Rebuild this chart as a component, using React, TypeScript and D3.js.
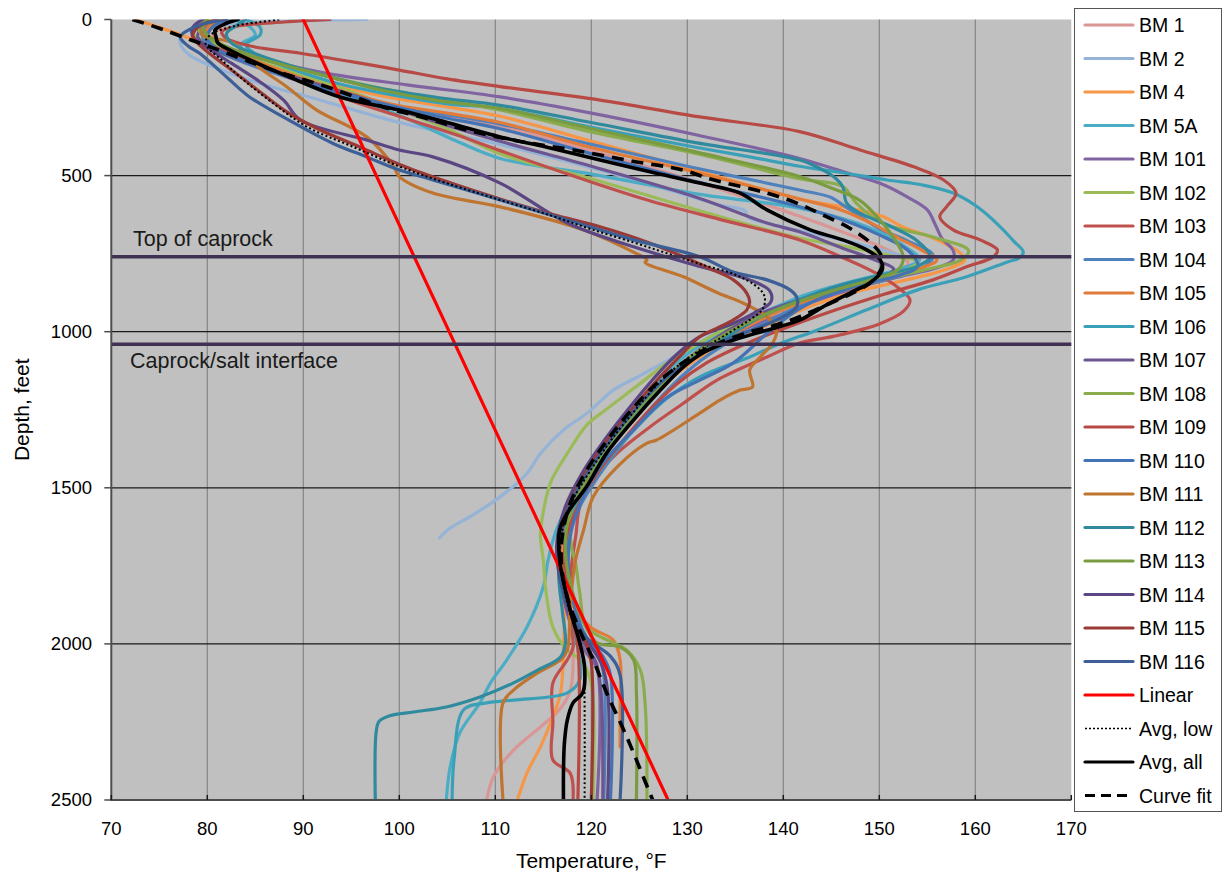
import React from "react";
import * as d3 from "d3";

// Temperature logs: [temperature °F, depth ft]
const bm1 = [[84,0],[81.5,25],[80.5,60],[81.5,100],[86,160],[93,230],[101,290],[110.5,340],[120,420],[131,520],[141.7,630],[147,690],[151,740],[153,780],[151,815],[146,855],[141.5,905],[137.5,965],[133.5,1030],[130,1100],[127,1190],[124,1290],[121.4,1390],[119.4,1490],[117.8,1590],[117.2,1700],[117.6,1850],[118.1,2000],[117.8,2150],[116.7,2210],[114.7,2266],[111.9,2340],[109.8,2426],[109.1,2500]];
const bm2 = [[96.6,0],[90,4],[84,12],[79,28],[77.2,50],[77.3,85],[78.2,115],[80.5,150],[85,200],[92,260],[100,330],[110.5,400],[120,475],[128,545],[133.5,595],[136,612],[136.3,632],[140,665],[146,705],[151,745],[154,780],[152,810],[147,850],[141,900],[136,960],[131.5,1030],[127.5,1100],[124.5,1150],[122.3,1187],[119.5,1262],[117.1,1315],[114.7,1390],[113.3,1454],[110.5,1529],[107.5,1590],[105.3,1629],[104.2,1660]];
const bm4 = [[72.5,0],[75,25],[77.5,52],[79.5,78],[82,110],[86,150],[92,200],[99,250],[105,280],[110.5,310],[120,390],[130,475],[141.7,575],[147,605],[150.3,630],[152.5,665],[155.6,700],[158.3,745],[158.9,770],[157,800],[152,840],[146.5,880],[141.5,935],[137.5,990],[133,1050],[129.5,1120],[126.5,1200],[123.8,1300],[121.2,1400],[119.2,1500],[117.5,1600],[117,1700],[117.2,1850],[117.1,2029],[116.8,2157],[116,2234],[114.7,2330],[113.3,2413],[112.3,2500]];
const bm5a = [[83,0],[84.5,25],[85,50],[83.5,80],[84,110],[86.5,150],[90.5,200],[96,260],[101,320],[106,390],[110.5,445],[120.9,500],[131.3,560],[141.7,604],[148.7,664],[153.2,738],[154.2,770],[152,800],[147,840],[142,885],[138,940],[134,1000],[130.5,1060],[127.5,1140],[124.5,1240],[121.8,1340],[119.6,1440],[117.8,1540],[116.3,1640],[115.5,1731],[115,1817],[113.3,1946],[111.2,2051],[109.5,2125],[108.4,2189],[106.3,2285],[105.3,2394],[104.9,2500]];
const bm101 = [[80,0],[79,20],[79.5,50],[81,80],[85,120],[92,170],[101,210],[110.5,248],[120,300],[131,370],[141.7,445],[147,495],[150.5,530],[153,570],[155,610],[155.8,655],[156.5,700],[157.7,740],[157.7,770],[156,795],[152,825],[147.5,860],[143,905],[139,955],[134.5,1010],[131,1070],[128,1150],[125,1250],[122.3,1350],[120,1450],[118,1560],[116.8,1680],[116.9,1800],[118,1950],[119.5,2030],[120.6,2080],[120.6,2500]];
const bm102 = [[80.5,0],[79,20],[78.5,45],[80,75],[83,110],[88,160],[94,220],[100,290],[105,350],[110.5,430],[120,510],[131,610],[141.7,700],[147,730],[151,755],[154,776],[153,800],[150,830],[146,860],[142,895],[138,940],[134,990],[130.5,1050],[127.9,1100],[124.5,1180],[121.5,1250],[119.5,1300],[117.5,1390],[115.8,1480],[115.1,1560],[114.7,1650],[115,1731],[115.3,1837],[116,1946],[117.5,2020],[118.5,2042],[119.5,2080],[120.1,2150],[120.2,2500]];
const bm103 = [[82,0],[80.5,25],[80,55],[81,85],[84,130],[89,190],[95,260],[101,320],[106,370],[110.5,420],[118,500],[126,580],[134,645],[141.7,706],[146,760],[149.5,810],[152,860],[153.2,899],[152.5,935],[150,975],[145.2,1015],[141.7,1036],[138.3,1081],[133.1,1155],[129.6,1229],[126.1,1305],[122.7,1389],[120.2,1475],[118.8,1561],[118.4,1650],[117.9,1760],[117.7,1900],[118.1,2010],[117.5,2051],[116,2125],[116,2250],[116,2372],[117.8,2414],[118.1,2500]];
const bm104 = [[82.5,0],[80,25],[79.5,55],[80.5,90],[84,140],[90,200],[97,260],[104,300],[110.5,335],[120,400],[130,470],[141.7,546],[145,570],[146,590],[148,630],[150,670],[153,710],[155.6,755],[154.8,790],[151,830],[146,870],[141.5,920],[138.3,970],[134.5,1030],[131.5,1090],[128.5,1170],[125.8,1260],[123.2,1360],[120.8,1460],[118.8,1560],[117.6,1660],[117.5,1760],[118.3,1880],[119.5,1990],[120.8,2040],[121.3,2100],[121.3,2500]];
const bm105 = [[82,0],[80,30],[80.5,65],[82.5,100],[86.5,150],[92,210],[99,270],[105,300],[110.5,330],[120,410],[131,490],[141.7,575],[146,610],[149,650],[152,700],[154.5,740],[156,770],[154,800],[149.5,840],[144,885],[139.5,935],[135.5,995],[131.8,1060],[128.6,1140],[125.6,1240],[122.8,1340],[120.4,1440],[118.4,1540],[117,1640],[116.9,1750],[117.8,1860],[119.9,1946],[122.3,1988],[123,2051],[123,2200],[123,2330]];
const bm106 = [[84,0],[85.5,25],[85.5,50],[84,80],[85,110],[88,150],[93,200],[99,240],[105,270],[110.5,285],[120,345],[131,410],[136.5,440],[141.7,470],[146,490],[150.8,514],[154.5,530],[157.7,556],[160.2,600],[162.6,664],[164,710],[165,745],[164.5,765],[163.5,775],[159.1,824],[154,866],[148.7,930],[143.5,995],[139.5,1040],[136.5,1081],[131.3,1145],[127.6,1220],[124.6,1310],[121.8,1410],[119.4,1510],[117.6,1610],[117.2,1720],[117.6,1850],[118.4,1980],[118.8,2115],[117.5,2157],[111.9,2180],[109.1,2189],[106.7,2211],[105.7,2372],[105.5,2500]];
const bm107 = [[81,0],[79.5,25],[79,55],[80,85],[83,125],[88,175],[95,240],[103,320],[110.5,390],[120,470],[131,570],[138.3,652],[141.7,680],[146,730],[149.5,770],[151.5,800],[150,830],[146,860],[141.5,900],[137,950],[133.5,1010],[130.3,1080],[127.3,1160],[124.3,1260],[121.6,1360],[119.3,1460],[117.5,1560],[116.6,1660],[116.7,1780],[117.8,1920],[119.5,2010],[120.5,2060],[121,2150],[121.2,2500]];
const bm108 = [[80,0],[79,20],[79.5,50],[81,80],[85,120],[91,170],[98,220],[104,255],[110.5,290],[120,360],[131,430],[141.7,510],[146.2,535],[147.6,588],[150.3,652],[155.6,697],[159.3,740],[158.5,770],[155,800],[150,835],[145,870],[140.5,915],[136.5,970],[132.5,1035],[129.5,1100],[126.3,1190],[123.5,1290],[121,1390],[118.9,1490],[117.8,1590],[118,1700],[118.3,1731],[118.8,1837],[119.5,1946],[122.3,1997],[123.7,2020],[125.1,2083],[125.6,2189],[125.8,2500]];
const bm109 = [[92.8,0],[88,8],[83,22],[81.5,40],[82,60],[84.5,85],[89.7,108],[95,135],[100,162],[105,190],[110.5,215],[120.9,258],[131.3,312],[141.7,359],[148,418],[153.6,472],[156.7,514],[158,556],[157,600],[156.3,632],[157.7,674],[160.5,706],[162.3,738],[161.9,760],[159.1,792],[155.6,834],[150.5,880],[145.5,930],[140.5,985],[136,1040],[132,1100],[128.8,1170],[125.8,1260],[123,1360],[120.5,1460],[118.6,1560],[117.4,1660],[117.2,1760],[117.9,1900],[118.6,2010],[118.6,2500]];
const bm110 = [[82,0],[80.5,25],[80,60],[81,95],[84.5,140],[90,200],[97,260],[104,310],[110.5,350],[120,430],[131,520],[141.7,600],[146,640],[150,690],[153,740],[154,790],[152,820],[148,850],[144.5,885],[141.5,930],[138.5,1000],[134.8,1100],[131.3,1155],[127.9,1210],[124.4,1315],[120.9,1433],[119,1540],[117.9,1640],[117.6,1740],[118,1850],[119.5,1980],[121.2,2040],[122,2100],[122,2500]];
const bm111 = [[81.5,0],[79.5,25],[79.5,50],[82.7,75],[84.8,140],[88.3,216],[91.4,290],[96.6,376],[99.4,470],[100,503],[103.5,556],[110.5,600],[119.2,674],[124.4,745],[125.8,770],[125.6,778],[129.6,824],[133.2,876],[135.8,908],[138.3,952],[139.3,995],[138.9,1036],[137.6,1081],[136.5,1123],[136.8,1177],[135.5,1187],[133.4,1219],[131.3,1261],[126.8,1347],[125.8,1357],[122.7,1433],[120.2,1529],[119.2,1635],[118.3,1740],[117.8,1880],[117.5,2020],[116.8,2051],[114.4,2093],[111.9,2148],[110.8,2189],[110.8,2500]];
const bm112 = [[84,0],[83,20],[82,45],[82.5,75],[85,110],[90,160],[97,215],[104,250],[110.5,275],[120,330],[131,395],[141.7,450],[144,480],[145.5,510],[146.2,536],[146.6,588],[148,620],[151,660],[154,710],[155.3,760],[154,790],[150,820],[145.5,855],[141.5,900],[137.5,955],[134,1020],[130.5,1090],[127.5,1170],[124.7,1260],[122,1360],[119.8,1460],[117.9,1560],[116.8,1660],[116.6,1780],[117,1900],[117.3,1997],[116.8,2042],[114.4,2084],[111.9,2125],[108.4,2170],[104.9,2202],[101.5,2218],[99,2230],[97.9,2248],[97.6,2280],[97.5,2500]];
const bm113 = [[80,0],[79.5,20],[80,50],[81.5,80],[85,120],[91,170],[98,225],[104,260],[110.5,285],[120,350],[131,425],[141.7,503],[145,540],[148,580],[150,640],[151.5,700],[152.5,760],[152,800],[149,835],[145,870],[141,910],[137,960],[133,1025],[129.7,1100],[126.6,1190],[123.7,1290],[121.2,1390],[119.2,1490],[117.7,1590],[117.3,1700],[118,1830],[119.5,1950],[120.6,1997],[123,2010],[124.4,2051],[124.7,2157],[124.7,2500]];
const bm114 = [[79.5,0],[78.5,25],[78.5,55],[80,90],[82.5,140],[85.5,200],[88,260],[89.7,322],[96.6,386],[100,418],[103.5,440],[110.5,524],[117.5,652],[124.4,728],[131.3,791],[136.5,834],[138.6,870],[138.7,905],[136.9,941],[134.8,973],[131.3,1016],[129,1070],[126.5,1150],[123.8,1250],[121.3,1350],[119.1,1450],[117.3,1560],[116.4,1680],[116.8,1800],[118.3,1930],[120,2010],[121,2060],[121.7,2150],[121.7,2500]];
const bm115 = [[81,0],[79,25],[78.5,55],[79.5,90],[82,150],[85,220],[88,290],[91.5,350],[96,410],[100.5,470],[105,520],[110.5,575],[116,625],[120.9,664],[126,715],[129.6,760],[132.5,800],[134.8,834],[136.2,877],[136.5,904],[136.2,930],[134.8,962],[133,990],[131.3,1016],[129.5,1070],[127,1150],[124.2,1250],[121.6,1350],[119.4,1450],[117.6,1560],[116.7,1680],[116.9,1800],[118.2,1920],[119.5,2000],[120,2060],[120,2500]];
const bm116 = [[82,0],[79,20],[77.2,56],[78,85],[79.2,108],[82,184],[84.4,248],[87.9,312],[93.1,397],[96.6,440],[100,482],[103.5,514],[110.5,578],[117.5,642],[124.4,706],[131.3,760],[134.8,809],[138.3,834],[140.7,866],[141.4,890],[141.4,920],[140,952],[137.6,985],[134.8,1016],[132,1060],[128.5,1130],[125.4,1220],[122.7,1320],[120.3,1420],[118.3,1520],[116.9,1630],[116.6,1740],[117.5,1870],[119.5,1980],[122,2040],[123,2100],[123,2500]];

const linear = [[90,0],[128,2500]];
const avgLow = [[87.5,0],[85.5,8],[83,20],[80.5,45],[79.8,70],[80,88],[81.5,130],[83.4,184],[86.8,267],[90.4,344],[95.2,408],[100.1,472],[105,525],[110.5,578],[116,630],[120.2,674],[124.5,715],[127.9,749],[131.5,785],[134.8,815],[137,850],[137.9,877],[138.1,900],[137.8,930],[136.5,962],[134.8,995],[133.1,1027],[130.5,1075],[127.5,1150],[124.6,1250],[122,1350],[119.8,1450],[117.9,1550],[116.9,1650],[116.8,1750],[117.5,1870],[118.6,1980],[119.2,2060],[119.3,2200],[119.3,2500]];
const avgAll = [[83.2,0],[82,12],[80.8,34],[80.9,55],[81.1,75],[82.5,100],[84.5,130],[89,190],[93.8,248],[100,290],[105,330],[110.5,376],[115.5,410],[120.9,450],[126,487],[131.3,524],[135.5,556],[138.3,610],[142.8,674],[146.2,706],[148.7,738],[150.1,770],[150.3,802],[149,844],[147.6,866],[144.5,914],[141.7,963],[138.3,995],[134.8,1027],[131.8,1065],[129.6,1113],[127.2,1187],[124.4,1283],[121.6,1389],[119.5,1497],[117.5,1581],[116.7,1635],[116.7,1731],[117.8,1891],[118.8,1997],[119.3,2074],[119.1,2157],[118.1,2189],[117.5,2244],[117.2,2317],[117.1,2414],[117.1,2500]];
const curveFit = [[72.2,0],[75,28],[77.7,59],[80.6,91],[86.8,162],[92.5,216],[98.3,280],[103,318],[107,354],[112.5,390],[118.1,418],[124,452],[129.5,482],[132.4,511],[138.3,556],[141.4,588],[144.1,626],[146.9,668],[149,713],[150.1,750],[150.3,790],[149.2,840],[147.3,875],[144.5,914],[141.7,952],[139.3,978],[136.2,1004],[133,1040],[130,1090],[127,1160],[124.2,1250],[121.6,1350],[119.4,1450],[117.8,1550],[117,1650],[116.9,1750],[117.5,1850],[118.7,1950],[120.2,2051],[121.6,2157],[123.7,2298],[126.1,2478],[126.4,2500]];

const wellNames = ["BM 1","BM 2","BM 4","BM 5A","BM 101","BM 102","BM 103","BM 104","BM 105","BM 106","BM 107","BM 108","BM 109","BM 110","BM 111","BM 112","BM 113","BM 114","BM 115","BM 116"];
const wellColors = ["#d99694","#95b3d7","#f79646","#4bacc6","#8064a2","#9bbb59","#c0504d","#4f81bd","#e07b39","#3aa0b8","#6c5590","#8aac4c","#b84a46","#4373b5","#bf7430","#2f8a9e","#7a9b40","#5a4683","#9a3a37","#3b5f96"];
const wellData = [bm1,bm2,bm4,bm5a,bm101,bm102,bm103,bm104,bm105,bm106,bm107,bm108,bm109,bm110,bm111,bm112,bm113,bm114,bm115,bm116];

const xTicks = [70,80,90,100,110,120,130,140,150,160,170];
const yTicks = [0,500,1000,1500,2000,2500];
const horizons = [
  { label: "Top of caprock", depth: 760 },
  { label: "Caprock/salt interface", depth: 1040 },
];

const FONT = "'Liberation Sans', Arial, sans-serif";

export default function App() {
  const left = 111.3, right = 1071.3, top = 19.5, bottom = 800;
  const x = d3.scaleLinear().domain([70, 170]).range([left, right]);
  const y = d3.scaleLinear().domain([0, 2500]).range([top, bottom]);
  const line = d3
    .line<number[]>()
    .x((d) => x(d[0]))
    .y((d) => y(d[1]))
    .curve(d3.curveCatmullRom.alpha(0.5));

  const extra = [
    { name: "Linear", data: linear, color: "#ff0000", width: 3.2, dash: undefined as string | undefined },
    { name: "Avg, low", data: avgLow, color: "#000000", width: 2, dash: "2,2.5" },
    { name: "Avg, all", data: avgAll, color: "#000000", width: 3.6, dash: undefined },
    { name: "Curve fit", data: curveFit, color: "#000000", width: 3.6, dash: "12,8" },
  ];

  const legendItems = [
    ...wellNames.map((n, i) => ({ name: n, color: wellColors[i], width: 3.2, dash: undefined as string | undefined })),
    ...extra.map((e) => ({ name: e.name, color: e.color, width: e.name === "Avg, low" ? 1.6 : 3.2, dash: e.name === "Avg, low" ? "2,2" : e.name === "Curve fit" ? "10,6" : undefined })),
  ];

  return (
    <svg
      width={1225}
      height={875}
      style={{ position: "absolute", left: 0, top: 0, background: "#fff" }}
      fontFamily={FONT}
    >
      <defs>
        <clipPath id="plot-clip">
          <rect x={left} y={top} width={right - left} height={bottom - top} />
        </clipPath>
      </defs>
      <rect x={left} y={top} width={right - left} height={bottom - top} fill="#c0c0c0" />
      {xTicks.slice(1, -1).map((t) => (
        <line key={"gx" + t} x1={x(t)} x2={x(t)} y1={top} y2={bottom} stroke="#868686" strokeWidth={1.2} />
      ))}
      {yTicks.slice(1, -1).map((t) => (
        <line key={"gy" + t} x1={left} x2={right} y1={y(t)} y2={y(t)} stroke="#1a1a1a" strokeWidth={1.3} />
      ))}

      <g clipPath="url(#plot-clip)" fill="none" strokeLinejoin="round" strokeLinecap="round">
        {wellData.map((d, i) => (
          <path key={wellNames[i]} d={line(d) || ""} stroke={wellColors[i]} strokeWidth={3.2} />
        ))}
        {extra.map((e) => (
          <path
            key={e.name}
            d={line(e.data) || ""}
            stroke={e.color}
            strokeWidth={e.width}
            strokeDasharray={e.dash}
            strokeLinecap={e.dash ? "butt" : "round"}
          />
        ))}
      </g>

      {horizons.map((h) => (
        <line key={h.label} x1={left} x2={right} y1={y(h.depth)} y2={y(h.depth)} stroke="#3f3151" strokeWidth={3.5} />
      ))}
      <text x={133} y={y(760) - 11} fontSize={21.5} fill="#1a1a1a">{horizons[0].label}</text>
      <text x={130} y={y(1040) + 24} fontSize={21.5} fill="#1a1a1a">{horizons[1].label}</text>

      {/* axes */}
      <line x1={left} x2={left} y1={top} y2={bottom} stroke="#4d4d4d" strokeWidth={2} />
      <line x1={left - 1} x2={right} y1={bottom} y2={bottom} stroke="#4d4d4d" strokeWidth={2} />
      {yTicks.map((t) => (
        <g key={"yt" + t}>
          <line x1={left - 7} x2={left} y1={y(t)} y2={y(t)} stroke="#4d4d4d" strokeWidth={1.5} />
          <text x={92} y={y(t)} dy="0.35em" textAnchor="end" fontSize={18.5} fill="#000">{t}</text>
        </g>
      ))}
      {xTicks.map((t) => (
        <g key={"xt" + t}>
          <line x1={x(t)} x2={x(t)} y1={bottom - 5} y2={bottom} stroke="#1a1a1a" strokeWidth={1.5} />
          <text x={x(t)} y={835} textAnchor="middle" fontSize={18.5} fill="#000">{t}</text>
        </g>
      ))}
      <text x={(left + right) / 2} y={868} textAnchor="middle" fontSize={21} fill="#000">Temperature, °F</text>
      <text transform={`translate(29,${(top + bottom) / 2}) rotate(-90)`} textAnchor="middle" fontSize={21} fill="#000">Depth, feet</text>

      {/* legend */}
      <rect x={1074.5} y={8.5} width={147} height={803} fill="#fff" stroke="#555" strokeWidth={1} />
      {legendItems.map((it, i) => {
        const ly = 25 + i * 33.5;
        return (
          <g key={"lg" + it.name}>
            <line x1={1085} x2={1133} y1={ly} y2={ly} stroke={it.color} strokeWidth={it.width} strokeDasharray={it.dash} strokeLinecap={it.dash ? "butt" : "round"} />
            <text x={1139} y={ly} dy="0.36em" fontSize={19.5} fill="#000">{it.name}</text>
          </g>
        );
      })}
    </svg>
  );
}
